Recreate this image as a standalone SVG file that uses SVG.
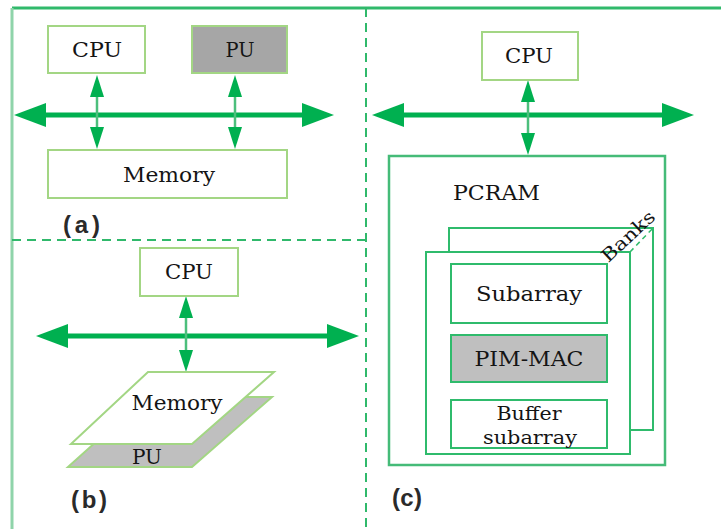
<svg xmlns="http://www.w3.org/2000/svg" width="721" height="529" viewBox="0 0 721 529">
<defs>
<style>
.lbox{fill:#fff;stroke:#a3d684;stroke-width:2}
.gbox{fill:#a6a6a6;stroke:#a3d684;stroke-width:2}
.cbox{fill:#fff;stroke:#2fbb6c;stroke-width:2}
.cgbox{fill:#bfbfbf;stroke:#2fbb6c;stroke-width:2}
.txt{font-family:"DejaVu Serif","Liberation Serif",serif;font-size:20px;fill:#141414;text-anchor:middle;dominant-baseline:central}
.lab{font-family:"Liberation Sans","Open Sans",sans-serif;font-size:24px;font-weight:bold;fill:#2a2a2a}
.bus{stroke:#00b050;stroke-width:5;fill:none}
.thin{stroke:#4cbf7c;stroke-width:2.5;fill:none}
.frame{stroke:#30b96b;stroke-width:3;fill:none}
.dash{stroke:#30b96b;stroke-width:2;fill:none;stroke-dasharray:9,6}
</style>
<marker id="bh" markerUnits="userSpaceOnUse" markerWidth="32" markerHeight="24" refX="0" refY="12" orient="auto-start-reverse"><path d="M0,0 L32,12 L0,24 z" fill="#00b050"/></marker>
<marker id="th" markerUnits="userSpaceOnUse" markerWidth="22" markerHeight="14" refX="0" refY="7" orient="auto-start-reverse"><path d="M0,0 L22,7 L0,14 z" fill="#00b050"/></marker>
</defs>
<rect width="721" height="529" fill="#fff"/>
<g id="frame">
<line class="frame" x1="12" y1="8" x2="721" y2="8"/>
<line x1="12" y1="8" x2="12" y2="529" stroke="#8fd4aa" stroke-width="3"/>
<line class="dash" x1="366" y1="8" x2="366" y2="529"/>
<line class="dash" x1="12" y1="240" x2="366" y2="240"/>
</g>
<g id="connectors">
<line class="bus" x1="46" y1="115" x2="302" y2="115" marker-start="url(#bh)" marker-end="url(#bh)"/>
<line class="thin" x1="97" y1="97" x2="97" y2="127" marker-start="url(#th)" marker-end="url(#th)"/>
<line class="thin" x1="235" y1="97" x2="235" y2="127" marker-start="url(#th)" marker-end="url(#th)"/>
<line class="bus" x1="68" y1="336" x2="327" y2="336" marker-start="url(#bh)" marker-end="url(#bh)"/>
<line class="thin" x1="186" y1="318" x2="186" y2="350" marker-start="url(#th)" marker-end="url(#th)"/>
<line class="bus" x1="404" y1="115" x2="662" y2="115" marker-start="url(#bh)" marker-end="url(#bh)"/>
<line class="thin" x1="528" y1="102" x2="528" y2="133" marker-start="url(#th)" marker-end="url(#th)"/>
</g>
<g id="a-cpu"><rect class="lbox" x="48" y="26" width="97" height="47"/><text class="txt" x="97" y="50" textLength="50" lengthAdjust="spacingAndGlyphs">CPU</text></g>
<g id="a-pu"><rect class="gbox" x="192" y="26" width="95" height="47"/><text class="txt" x="240" y="50" textLength="29" lengthAdjust="spacingAndGlyphs">PU</text></g>
<g id="a-memory"><rect class="lbox" x="48" y="150" width="239" height="48"/><text class="txt" x="169" y="175" textLength="92" lengthAdjust="spacingAndGlyphs">Memory</text></g>
<text class="lab" x="63" y="233" textLength="37" lengthAdjust="spacing">(a)</text>
<g id="b-cpu"><rect class="lbox" x="140" y="248" width="98" height="48"/><text class="txt" x="189" y="272" textLength="48" lengthAdjust="spacingAndGlyphs">CPU</text></g>
<g id="b-pu"><polygon points="146,397 272,397 192,467 68,467" fill="#bfbfbf" stroke="#a3d684" stroke-width="2"/><text class="txt" x="147" y="457" textLength="30" lengthAdjust="spacingAndGlyphs">PU</text></g>
<g id="b-memory"><polygon points="148,372 274,372 192,444 71,444" fill="#fff" stroke="#a3d684" stroke-width="2"/><text class="txt" x="177" y="403" textLength="91" lengthAdjust="spacingAndGlyphs">Memory</text></g>
<text class="lab" x="71" y="508" textLength="36" lengthAdjust="spacing">(b)</text>
<g id="c-cpu"><rect class="lbox" x="482" y="32" width="96" height="48"/><text class="txt" x="529" y="56" textLength="48" lengthAdjust="spacingAndGlyphs">CPU</text></g>
<g id="c-pcram"><rect x="389" y="156" width="276" height="309" fill="#fff" stroke="#45bb78" stroke-width="2.5"/><text class="txt" x="453" y="193" style="text-anchor:start" textLength="87" lengthAdjust="spacingAndGlyphs">PCRAM</text></g>
<g id="c-banks">
<rect class="cbox" x="449" y="228" width="204" height="202"/>
<line x1="630" y1="252" x2="653" y2="228" stroke="#2fbb6c" stroke-width="1.5" stroke-dasharray="5,4"/>
<rect class="cbox" x="426" y="252" width="204" height="202"/>
<text class="txt" x="628" y="236" transform="rotate(-43 628 236)" style="font-size:18px" textLength="66" lengthAdjust="spacingAndGlyphs">Banks</text>
</g>
<g id="c-subarray"><rect class="cbox" x="451" y="264" width="156" height="59"/><text class="txt" x="529" y="294" textLength="106" lengthAdjust="spacingAndGlyphs">Subarray</text></g>
<g id="c-pimmac"><rect class="cgbox" x="451" y="335" width="156" height="47"/><text class="txt" x="529" y="359" textLength="109" lengthAdjust="spacingAndGlyphs">PIM-MAC</text></g>
<g id="c-buffer"><rect class="cbox" x="451" y="400" width="156" height="48"/><text class="txt" x="529" y="413" style="font-size:19px" textLength="65" lengthAdjust="spacingAndGlyphs">Buffer</text><text class="txt" x="530" y="437" style="font-size:19px" textLength="94" lengthAdjust="spacingAndGlyphs">subarray</text></g>
<text class="lab" x="392" y="506" textLength="30" lengthAdjust="spacing">(c)</text>
</svg>
